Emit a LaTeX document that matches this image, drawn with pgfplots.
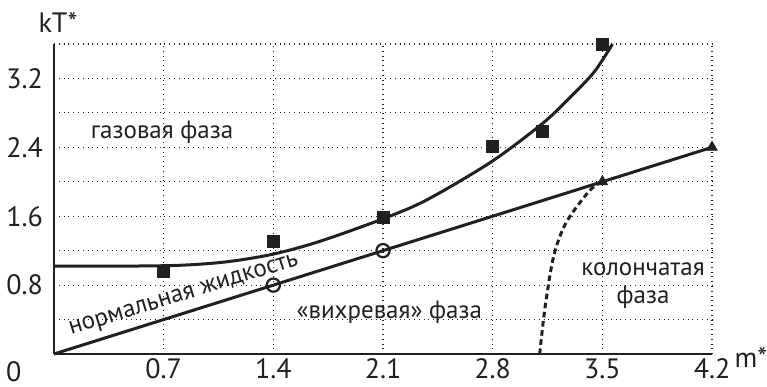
\documentclass[border=0pt]{standalone}
\usepackage{fontspec}
\setmainfont{PT Sans}
\usepackage{pgfplots}
\pgfplotsset{compat=1.18}
\usetikzlibrary{calc}
\definecolor{ink}{HTML}{231F20}
\begin{document}
\begin{tikzpicture}
\begin{axis}[
  scale only axis, width=329pt, height=155pt,
  xmin=0, xmax=4.2, ymin=0, ymax=3.6,
  axis lines=left, axis line style={-, line width=1pt, ink},
  xtick={0.7,1.4,2.1,2.8,3.5,4.2},
  xticklabels={0.7,1.4,2.1,2.8,3.5,4.2},
  ytick={0.8,1.6,2.4,3.2},
  yticklabels={0.8,1.6,2.4,3.2},
  minor ytick={0.4,1.2,2.0,2.8,3.6},
  grid=both,
  major grid style={dotted, line width=0.6pt, ink},
  minor grid style={dotted, line width=0.6pt, ink},
  major tick length=0pt, minor tick length=0pt,
  tick label style={font=\fontsize{14}{16}\selectfont, text=ink},
  yticklabel style={xshift=-2pt},
  xticklabel style={yshift=1pt},
  /pgf/number format/assume math mode=true,
  clip=false,
]
% upper curve
\addplot[ink, line width=1.5pt, smooth, tension=0.5] coordinates {
(0,1.02) (0.4,1.02) (0.8,1.03) (1.1,1.07) (1.4,1.16) (1.7,1.31) (2.1,1.57)
(2.38,1.79) (2.79,2.23) (3.12,2.68) (3.3,2.99) (3.45,3.28) (3.565,3.6)};
% straight line
\addplot[ink, line width=1.5pt] coordinates {(0,0) (4.2,2.4)};
% dashed boundary
\addplot[ink, line width=1.5pt, dash pattern=on 2.8pt off 1.8pt, smooth] coordinates {
(3.1,0) (3.135,0.55) (3.19,1.14) (3.27,1.53) (3.42,1.9) (3.5,2.0)};
% squares
\addplot[only marks, mark=square*, mark size=3pt, ink] coordinates {
(0.7,0.96) (1.4,1.31) (2.1,1.59) (2.8,2.41) (3.12,2.59) (3.5,3.6)};
% circles
\addplot[only marks, mark=o, mark size=3.3pt, ink, line width=1.1pt,
  mark options={fill=white}] coordinates {(1.4,0.8) (2.1,1.2)};
% triangles
\addplot[only marks, mark=triangle*, mark size=3pt, ink] coordinates {(3.5,2.0) (4.2,2.4)};

\node[font=\fontsize{12.5}{14}\selectfont, text=ink] at (axis cs:0.69,2.57) {газовая фаза};
\node[font=\fontsize{12.5}{14}\selectfont, text=ink, rotate=17] at (axis cs:0.83,0.67) {нормальная жидкость};
\node[font=\fontsize{12.5}{14}\selectfont, text=ink] at (axis cs:2.14,0.48) {«вихревая» фаза};
\node[font=\fontsize{12.5}{14}\selectfont, text=ink, align=center] at (axis cs:3.76,0.79) {колончатая\\фаза};
\node[font=\fontsize{14}{16}\selectfont, text=ink] at (rel axis cs:-0.061,-0.058) {0};
\node[font=\fontsize{14}{16}\selectfont, text=ink] at (rel axis cs:0.006,1.068) {kT*};
\node[font=\fontsize{14}{16}\selectfont, text=ink] at (rel axis cs:1.059,-0.01) {m*};
\end{axis}
\pgfresetboundingbox
\path ($(current axis.south west)+(-27pt,-16.5pt)$) rectangle ($(current axis.north east)+(27.5pt,22pt)$);
\end{tikzpicture}
\end{document}
